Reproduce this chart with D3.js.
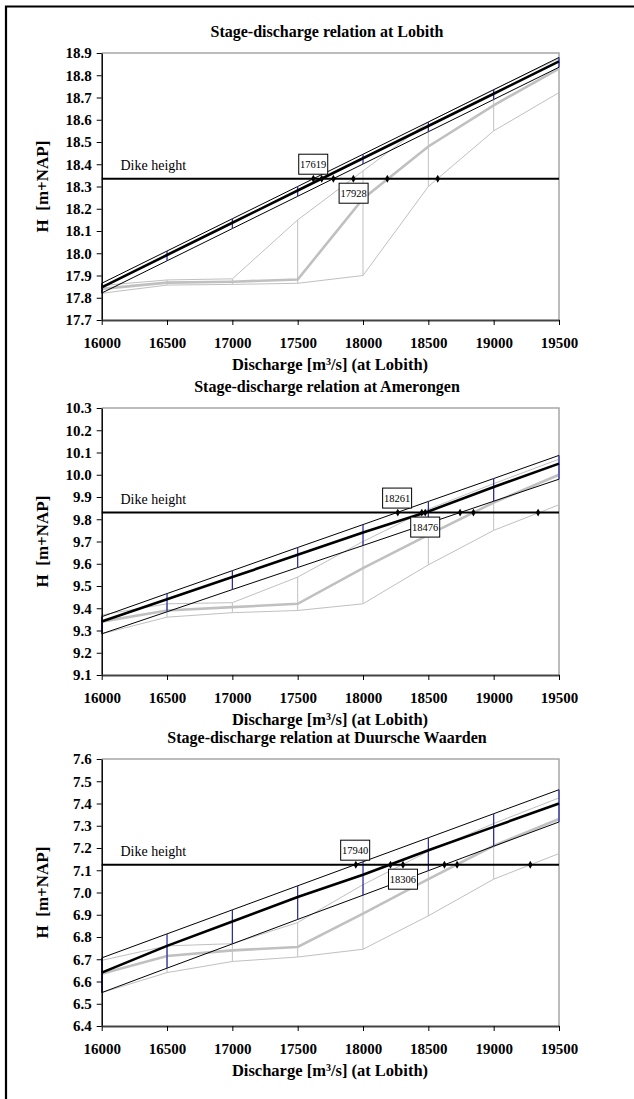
<!DOCTYPE html>
<html>
<head>
<meta charset="utf-8">
<script src="https://cdn.jsdelivr.net/npm/d3@7"></script>
<style>
  body { margin: 0; background: #fff; }
  text { font-family: "Liberation Serif", "DejaVu Serif", serif; }
</style>
</head>
<body>
<div id="chart"></div>
<script>
var width = 634,
  height = 1099;

// discharge at Lobith, m3/s
var discharge = [16000, 16500, 17000, 17500, 18000, 18500, 19000, 19500];

var stations = ["Lobith", "Amerongen", "Duursche Waarden"];
var dikeHeight = [18.335, 9.83, 7.125];
var yDomains = [[17.7, 18.9], [9.1, 10.3], [6.4, 7.6]];

// Lobith
var lobithUpper = [17.865, 18.010, 18.155, 18.300, 18.445, 18.590, 18.735, 18.880];
var lobithMean = [17.847, 17.992, 18.137, 18.282, 18.427, 18.572, 18.717, 18.862];
var lobithLower = [17.821, 17.966, 18.111, 18.256, 18.401, 18.546, 18.691, 18.836];
var lobithGreyUpper = [17.855, 17.880, 17.885, 18.150, 18.370, 18.590, 18.735, 18.875];
var lobithGreyMean = [17.840, 17.868, 17.872, 17.882, 18.245, 18.480, 18.665, 18.830];
var lobithGreyLower = [17.820, 17.857, 17.860, 17.865, 17.900, 18.300, 18.550, 18.722];
var lobithCross = [17620, 17684, 17773, 17926, 18186, 18572];
var lobithLabels = [17619, 17928];

// Amerongen
var amerongenUpper = [9.362, 9.466, 9.569, 9.673, 9.776, 9.880, 9.983, 10.087];
var amerongenMean = [9.340, 9.440, 9.540, 9.640, 9.740, 9.835, 9.945, 10.050];
var amerongenLower = [9.285, 9.384, 9.484, 9.583, 9.682, 9.782, 9.881, 9.980];
var amerongenGreyUpper = [9.370, 9.420, 9.425, 9.540, 9.700, 9.845, 9.960, 10.070];
var amerongenGreyMean = [9.340, 9.390, 9.405, 9.420, 9.580, 9.730, 9.875, 10.000];
var amerongenGreyLower = [9.285, 9.360, 9.380, 9.390, 9.420, 9.595, 9.750, 9.865];
var amerongenCross = [18266, 18450, 18476, 18743, 18845, 19340];
var amerongenLabels = [18261, 18476];

// Duursche Waarden
var duurscheUpper = [6.706, 6.814, 6.922, 7.030, 7.138, 7.246, 7.354, 7.462];
var duurscheMean = [6.640, 6.760, 6.870, 6.980, 7.080, 7.190, 7.295, 7.400];
var duurscheLower = [6.550, 6.660, 6.769, 6.879, 6.988, 7.098, 7.208, 7.317];
var duurscheGreyUpper = [6.695, 6.760, 6.770, 6.865, 7.035, 7.185, 7.310, 7.425];
var duurscheGreyMean = [6.635, 6.715, 6.740, 6.755, 6.905, 7.060, 7.210, 7.330];
var duurscheGreyLower = [6.550, 6.640, 6.690, 6.710, 6.745, 6.895, 7.060, 7.175];
var duurscheCross = [17945, 18210, 18306, 18623, 18720, 19280];
var duurscheLabels = [17940, 18306];

var panels = [
  { upper: lobithUpper, mean: lobithMean, lower: lobithLower,
    gUpper: lobithGreyUpper, gMean: lobithGreyMean, gLower: lobithGreyLower,
    cross: lobithCross, labels: lobithLabels },
  { upper: amerongenUpper, mean: amerongenMean, lower: amerongenLower,
    gUpper: amerongenGreyUpper, gMean: amerongenGreyMean, gLower: amerongenGreyLower,
    cross: amerongenCross, labels: amerongenLabels },
  { upper: duurscheUpper, mean: duurscheMean, lower: duurscheLower,
    gUpper: duurscheGreyUpper, gMean: duurscheGreyMean, gLower: duurscheGreyLower,
    cross: duurscheCross, labels: duurscheLabels }
];

var tops = [53, 408, 759],
  plotH = 267,
  left = 101.7,
  right = 559;

var grey = "#c0c0c0",
  blue = "#2323a0";

var svg = d3.select("#chart").append("svg")
  .attr("width", width)
  .attr("height", height);

// outer frame (only top and left edges visible)
svg.append("path")
  .attr("d", "M6," + height + " V6.5 H" + width)
  .attr("fill", "none")
  .attr("stroke", "#000")
  .attr("stroke-width", 2.2);

var x = d3.scaleLinear()
  .domain([16000, 19500])
  .range([left, right]);

panels.forEach(function (p, k) {
  var top = tops[k];
  var y = d3.scaleLinear()
    .domain(yDomains[k])
    .range([top + plotH, top]);

  var g = svg.append("g");

  var line = d3.line()
    .x(function (d, i) { return x(discharge[i]); })
    .y(function (d) { return y(d); });

  // plot border (top, right)
  g.append("path")
    .attr("d", "M" + left + "," + top + " H" + right + " V" + (top + plotH))
    .attr("fill", "none")
    .attr("stroke", "#a6a6a6")
    .attr("stroke-width", 1.5);

  // grey vertical bars
  g.selectAll(".gbar")
    .data(discharge)
    .enter()
    .append("line")
    .attr("x1", function (d) { return x(d); })
    .attr("x2", function (d) { return x(d); })
    .attr("y1", function (d, i) { return y(p.gLower[i]); })
    .attr("y2", function (d, i) { return y(p.gUpper[i]); })
    .attr("stroke", grey)
    .attr("stroke-width", 1);

  [p.gUpper, p.gLower].forEach(function (s) {
    g.append("path").attr("d", line(s))
      .attr("fill", "none").attr("stroke", grey).attr("stroke-width", 1);
  });
  g.append("path").attr("d", line(p.gMean))
    .attr("fill", "none").attr("stroke", grey).attr("stroke-width", 2.6);

  [p.upper, p.lower].forEach(function (s) {
    g.append("path").attr("d", line(s))
      .attr("fill", "none").attr("stroke", "#000").attr("stroke-width", 1);
  });

  // blue error bars
  g.selectAll(".bbar")
    .data(discharge)
    .enter()
    .append("line")
    .attr("x1", function (d) { return x(d); })
    .attr("x2", function (d) { return x(d); })
    .attr("y1", function (d, i) { return y(p.lower[i]); })
    .attr("y2", function (d, i) { return y(p.upper[i]); })
    .attr("stroke", blue)
    .attr("stroke-width", 1.2);

  g.append("path").attr("d", line(p.mean))
    .attr("fill", "none").attr("stroke", "#000").attr("stroke-width", 2.6);

  // dike height
  var yd = y(dikeHeight[k]);
  g.append("line")
    .attr("x1", left).attr("x2", right)
    .attr("y1", yd).attr("y2", yd)
    .attr("stroke", "#000")
    .attr("stroke-width", 2);

  g.append("text")
    .attr("x", 120.5)
    .attr("y", yd - 8.5)
    .attr("font-size", 14)
    .text("Dike height");

  g.selectAll(".mark")
    .data(p.cross)
    .enter()
    .append("path")
    .attr("d", d3.symbol().type(d3.symbolDiamond).size(18))
    .attr("transform", function (d) { return "translate(" + x(d) + "," + yd + ")"; })
    .attr("fill", "#000");

  p.labels.forEach(function (v, j) {
    var bw = 29, bh = 20;
    var by = j == 0 ? yd - 4.5 - bh : yd + 4.5;
    g.append("rect")
      .attr("x", x(v) - bw / 2)
      .attr("y", by)
      .attr("width", bw)
      .attr("height", bh)
      .attr("fill", "#fff")
      .attr("stroke", "#000")
      .attr("stroke-width", 1);
    g.append("text")
      .attr("x", x(v))
      .attr("y", by + bh / 2 + 3.6)
      .attr("text-anchor", "middle")
      .attr("font-size", 10.5)
      .text(v);
  });

  // axes
  var yAxis = g.append("g")
    .attr("transform", "translate(" + left + ",0)")
    .call(d3.axisLeft(y).ticks(12).tickFormat(d3.format(".1f")).tickSize(5).tickSizeOuter(0).tickPadding(5));
  var xAxis = g.append("g")
    .attr("transform", "translate(0," + (top + plotH) + ")")
    .call(d3.axisBottom(x).tickValues(discharge).tickFormat(d3.format("d")).tickSize(5).tickSizeOuter(0).tickPadding(12));

  [yAxis, xAxis].forEach(function (a) {
    a.selectAll("text")
      .attr("font-family", "Liberation Serif")
      .attr("font-size", 15)
      .attr("font-weight", "bold")
      .attr("fill", "#000");
    a.select(".domain").attr("stroke", "#000").attr("stroke-width", 1.5);
    a.selectAll(".tick line").attr("stroke", "#000");
  });
  xAxis.select(".domain").attr("stroke", "#444").attr("stroke-width", 2);

  // titles
  g.append("text")
    .attr("x", 327)
    .attr("y", top - 16)
    .attr("text-anchor", "middle")
    .attr("font-size", 16)
    .attr("font-weight", "bold")
    .text("Stage-discharge relation at " + stations[k]);

  var xt = g.append("text")
    .attr("x", 330)
    .attr("y", top + plotH + 49.5)
    .attr("text-anchor", "middle")
    .attr("font-size", 16.5)
    .attr("font-weight", "bold");
  xt.append("tspan").text("Discharge [m");
  xt.append("tspan").attr("baseline-shift", "super").attr("font-size", 10).text("3");
  xt.append("tspan").text("/s] (at Lobith)");

  g.append("text")
    .attr("transform", "translate(42," + (top + plotH / 2) + ") rotate(-90)")
    .attr("text-anchor", "middle")
    .attr("dominant-baseline", "central")
    .attr("font-size", 17)
    .attr("font-weight", "bold")
    .style("white-space", "pre")
    .text("H  [m+NAP]");
});
</script>
</body>
</html>
